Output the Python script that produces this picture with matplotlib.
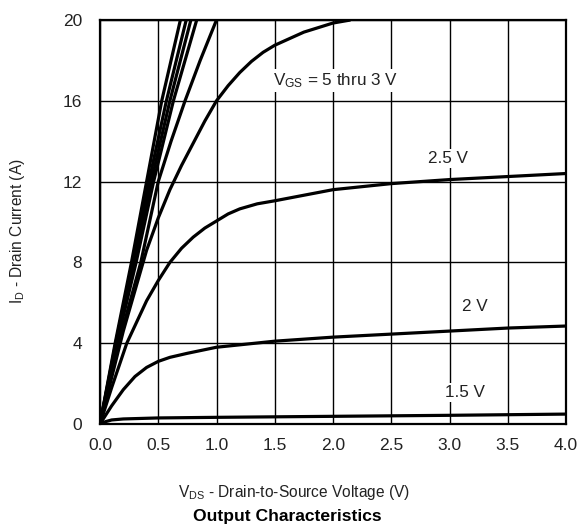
import matplotlib
matplotlib.use('Agg')
import matplotlib.pyplot as plt

plt.rcParams['font.family'] = ['Liberation Sans', 'DejaVu Sans']
plt.rcParams['mathtext.fontset'] = 'custom'
plt.rcParams['mathtext.rm'] = 'Liberation Sans'

# output curves, one per gate voltage (V_DS in V, I_D in A)
x_5v = [0, 0.13, 0.27, 0.40, 0.53, 0.69]
y_5v = [0, 4, 8, 12, 16, 20]
x_45v = [0, 0.135, 0.28, 0.42, 0.57, 0.74]
y_45v = [0, 4, 8, 12, 16, 20]
x_4v = [0, 0.14, 0.29, 0.44, 0.60, 0.78]
y_4v = [0, 4, 8, 12, 16, 20]
x_375v = [0, 0.145, 0.31, 0.46, 0.63, 0.83]
y_375v = [0, 4, 8, 12, 16, 20]
x_35v = [0, 0.16, 0.35, 0.50, 0.61, 0.73, 0.86, 1.0]
y_35v = [0, 4, 8, 12, 14, 16, 18, 20]
x_3v = [0, 0.2, 0.4, 0.5, 0.6, 0.7, 0.8, 0.9, 1.0, 1.1, 1.2, 1.3, 1.4, 1.5,
        1.75, 2.0, 2.15]
y_3v = [0, 4.6, 8.6, 10.2, 11.6, 12.8, 13.9, 15.0, 16, 16.75, 17.4, 17.95, 18.4, 18.75,
        19.4, 19.85, 20]
x_25v = [0, 0.1, 0.23, 0.4, 0.5, 0.6, 0.7, 0.8, 0.9, 1.0, 1.1, 1.2, 1.35, 1.5,
         2.0, 2.5, 3.0, 3.5, 4.0]
y_25v = [0, 1.8, 4.0, 6.1, 7.1, 8.0, 8.7, 9.25, 9.7, 10.05, 10.4, 10.65, 10.9, 11.05,
         11.6, 11.9, 12.1, 12.25, 12.4]
x_2v = [0, 0.1, 0.2, 0.3, 0.4, 0.5, 0.6, 0.75, 1.0, 1.5, 2.0, 2.5, 3.0, 3.5, 4.0]
y_2v = [0, 0.9, 1.7, 2.35, 2.8, 3.1, 3.3, 3.5, 3.8, 4.1, 4.3, 4.45, 4.6, 4.75, 4.85]
x_15v = [0, 0.05, 0.1, 0.2, 0.5, 1.0, 2.0, 3.0, 4.0]
y_15v = [0, 0.12, 0.2, 0.25, 0.3, 0.33, 0.38, 0.43, 0.49]

curves = [(x_5v, y_5v), (x_45v, y_45v), (x_4v, y_4v), (x_375v, y_375v),
          (x_35v, y_35v), (x_3v, y_3v), (x_25v, y_25v), (x_2v, y_2v),
          (x_15v, y_15v)]

labels = ['$\\mathregular{V_{GS}}$ = 5 thru 3 V', '2.5 V', '2 V', '1.5 V']
label_x = [2.02, 2.99, 3.22, 3.13]
label_y = [17.0, 13.15, 5.8, 1.55]

xticks = [0.0, 0.5, 1.0, 1.5, 2.0, 2.5, 3.0, 3.5, 4.0]
yticks = [0, 4, 8, 12, 16, 20]


def main():
    fig = plt.figure(figsize=(5.79, 5.29), dpi=100)
    ax = fig.add_axes([100/579, 1-424/529, 466/579, 404/529])
    ax.set_xlim(0, 4)
    ax.set_ylim(0, 20)
    ax.set_xticks(xticks)
    ax.set_yticks(yticks)
    ax.set_xticklabels(['%.1f' % t for t in xticks])
    ax.set_yticklabels([str(t) for t in yticks])
    ax.tick_params(length=0, labelsize=12.5, colors='#222222', pad=10)
    ax.tick_params(axis='y', pad=13)
    ax.grid(True, color='black', lw=1.0)
    ax.set_axisbelow(True)
    for s in ax.spines.values():
        s.set_linewidth(1.6)
    for xs, ys in curves:
        ax.plot(xs, ys, color='black', lw=2.3, solid_capstyle='butt', solid_joinstyle='round')
    for t, lx, ly in zip(labels, label_x, label_y):
        ax.text(lx, ly, t, ha='center', va='center', fontsize=12.3, color='#222222',
                bbox=dict(facecolor='white', edgecolor='none', pad=1.5))
    fig.text(294/579, 1-493/529, '$\\mathregular{V_{DS}}$ - Drain-to-Source Voltage (V)',
             ha='center', va='center', fontsize=11.2, color='#222222')
    fig.text(18/579, 1-231/529, '$\\mathregular{I_D}$ - Drain Current (A)', rotation=90,
             ha='center', va='center', fontsize=11.2, color='#222222')
    fig.text(287/579, 1-516/529, 'Output Characteristics', ha='center', va='center',
             fontsize=12.6, fontweight='bold', color='black')
    plt.savefig('out.png', dpi=100)
    plt.close()


if __name__ == "__main__":
    main()
